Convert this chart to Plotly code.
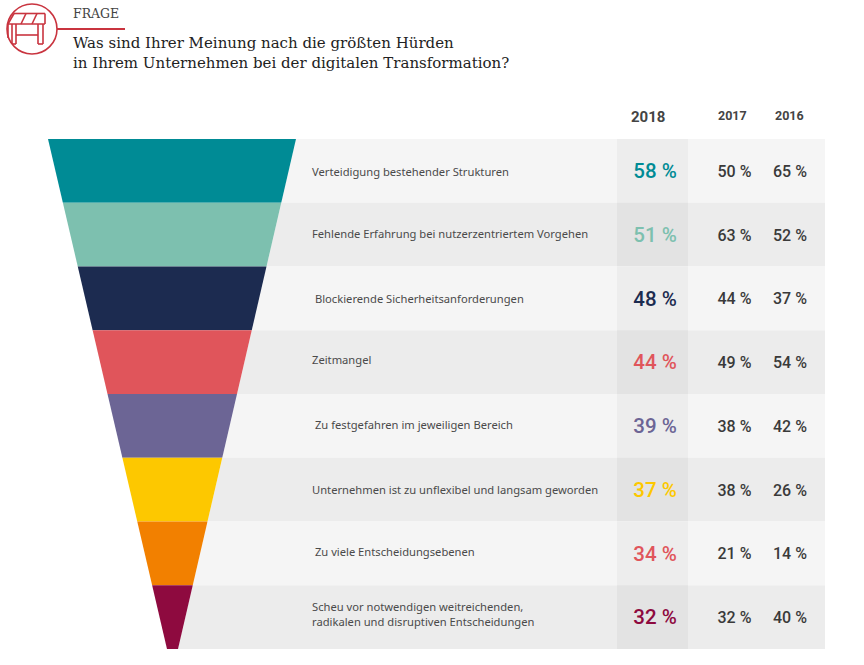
import plotly.graph_objects as go

# Funnel rows, top to bottom
labels = [
    "Verteidigung bestehender Strukturen",
    "Fehlende Erfahrung bei nutzerzentriertem Vorgehen",
    "\u00a0Blockierende Sicherheitsanforderungen",
    "Zeitmangel",
    "\u00a0Zu festgefahren im jeweiligen Bereich",
    "Unternehmen ist zu unflexibel und langsam geworden",
    "\u00a0Zu viele Entscheidungsebenen",
    "Scheu vor notwendigen weitreichenden,<br>radikalen und disruptiven Entscheidungen",
]
values_2018 = [58, 51, 48, 44, 39, 37, 34, 32]
values_2017 = [50, 63, 44, 49, 38, 38, 21, 32]
values_2016 = [65, 52, 37, 54, 42, 26, 14, 40]
years = ["2018", "2017", "2016"]

colors = ["#008b95", "#7dc0af", "#1c2b50", "#e0555b", "#6c6595", "#fdc800", "#f28000", "#8e0a3f"]
text_colors = ["#008b95", "#7dc0af", "#1c2b50", "#e0555b", "#6c6595", "#fdc800", "#e0555b", "#8e0a3f"]

title_small = "FRAGE"
title_main = "Was sind Ihrer Meinung nach die größten Hürden<br>in Ihrem Unternehmen bei der digitalen Transformation?"

# layout in page pixels
top, row_h = 139, 63.75
n = len(labels)
left0, right0 = 48, 296
left1, right1 = 167, 178
right_edge = 825
col18 = (617, 688)
label_y = [171, 233, 298, 359, 424, 489, 551, 614]  # labels are not quite centred in their rows
red = "#c9343f"


def left_at(y):
    return left0 + (left1 - left0) * (y - top) / (n * row_h)


def right_at(y):
    return right0 + (right1 - right0) * (y - top) / (n * row_h)


fig = go.Figure()


def poly(xs, ys, color):
    fig.add_trace(go.Scatter(x=xs, y=ys, mode="lines", fill="toself", fillcolor=color,
                             line=dict(width=0), hoverinfo="skip", showlegend=False))


for i in range(n):
    y0 = top + i * row_h
    y1 = y0 + row_h
    light = i % 2 == 0
    poly([right_at(y0), right_edge, right_edge, right_at(y1)], [y0, y0, y1, y1], "#f5f5f5" if light else "#ececec")
    poly([col18[0], col18[1], col18[1], col18[0]], [y0, y0, y1, y1], "#ededed" if light else "#e3e3e3")
    poly([left_at(y0), right_at(y0), right_at(y1), left_at(y1)], [y0, y0, y1, y1], colors[i])

centers = [top + (i + 0.5) * row_h for i in range(n)]

# row labels
for i in range(n):
    fig.add_annotation(x=310, y=label_y[i], text=labels[i], showarrow=False, xanchor="left", align="left",
                       font=dict(family="Noto Sans", size=11.2, color="#4a4a4a"))

# percent columns
fig.add_trace(go.Scatter(x=[655] * n, y=[c + 2 for c in centers], mode="text", hoverinfo="skip", showlegend=False,
                         text=[f"{v} %" for v in values_2018],
                         textfont=dict(family="Roboto", size=20.5, weight=500, color=text_colors)))
for xc, vals in [(734.5, values_2017), (790, values_2016)]:
    fig.add_trace(go.Scatter(x=[xc] * n, y=[c + 2 for c in centers], mode="text", hoverinfo="skip", showlegend=False,
                             text=[f"{v} %" for v in vals],
                             textfont=dict(family="Roboto", size=16, weight=500, color="#3a3a3a")))

# column heads
for year, xc, yc, size in zip(years, [647.5, 732.5, 789], [117, 115, 115], [15, 12.5, 12.5]):
    fig.add_annotation(x=xc, y=yc, text=f"<b>{year}</b>", showarrow=False,
                       font=dict(family="Roboto", size=size, color="#444444"))

# header text
fig.add_annotation(x=71, y=13, text=title_small, showarrow=False, xanchor="left",
                   font=dict(family="DejaVu Serif", size=12.5, color="#444444"))
fig.add_annotation(x=71, y=53, text=title_main, showarrow=False, xanchor="left", align="left",
                   font=dict(family="DejaVu Serif", size=15, color="#222222"))

# barrier icon
def seg(x0, y0, x1, y1, w=1.6):
    return dict(type="line", xref="x", yref="y", x0=x0, y0=y0, x1=x1, y1=y1, line=dict(color=red, width=w))


shapes = [
    dict(type="circle", xref="x", yref="y", x0=7, y0=4, x1=57, y1=54, line=dict(color=red, width=1.6)),
    seg(57, 29, 125, 29, 2),
    seg(14, 13.5, 45, 13.5), seg(45, 13.5, 45, 24), seg(8, 24, 45, 24), seg(8, 24, 14, 13.5),
    seg(21, 24, 26, 13.5), seg(32, 24, 37, 13.5),
    seg(8, 24, 8, 38), seg(12, 24, 12, 44), seg(16, 24, 16, 44), seg(12, 44, 16, 44),
    seg(38, 24, 38, 44), seg(43, 24, 43, 44), seg(38, 44, 43, 44),
    seg(16, 35, 38, 35),
]

fig.update_layout(
    width=864, height=665, margin=dict(l=0, r=0, t=0, b=0),
    paper_bgcolor="white", plot_bgcolor="white", showlegend=False, shapes=shapes,
    xaxis=dict(range=[0, 864], visible=False, fixedrange=True),
    yaxis=dict(range=[665, 0], visible=False, fixedrange=True),
)

# the page's default body margin would push the chart 8px down and right
fig.write_html("out.html", config={"displayModeBar": False},
               post_script="document.body.style.margin='0';document.body.style.overflow='hidden';")
